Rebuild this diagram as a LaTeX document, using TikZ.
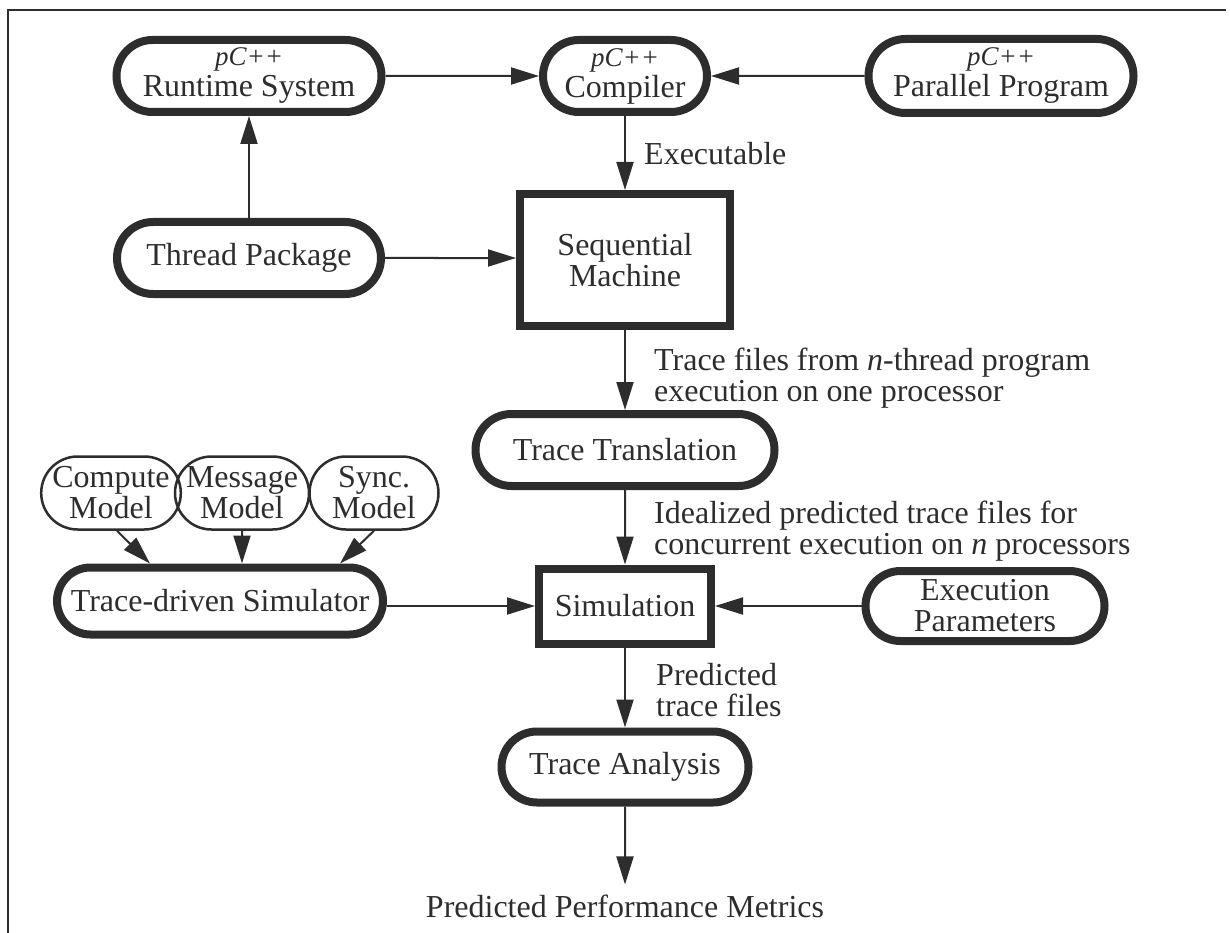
\documentclass[tikz,border=0pt]{standalone}
\usepackage{fontspec}
\setmainfont{Liberation Serif}
\usetikzlibrary{positioning,shapes.misc,arrows.meta,calc}
\definecolor{inkgray}{RGB}{45,45,45}
\newcommand{\pcpp}{{\fontsize{27}{31}\selectfont\itshape pC++}}

\begin{document}
\begin{tikzpicture}[
    x=1pt, y=-1pt,
    font=\fontsize{32}{31}\selectfont,
    every node/.style={text=inkgray},
    pill/.style={rounded rectangle,draw=inkgray,line width=8pt,inner sep=0pt,align=center},
    model/.style={rounded rectangle,draw=inkgray,line width=2.5pt,inner sep=0pt,minimum width=129pt,minimum height=73pt,align=center},
    machine/.style={rectangle,draw=inkgray,line width=8pt,inner sep=0pt,align=center},
    flow/.style={-{Triangle[length=28pt,width=17pt]},draw=inkgray,line width=2pt},
    note/.style={anchor=north west,align=left,inner sep=0pt}
]
\useasboundingbox (0,0) rectangle (1230,933);

% Frame
\draw[inkgray,line width=2.5pt] (1226,10) -- (8,10) -- (8,933);

% Compiler and its inputs
\node[pill,minimum width=265pt,minimum height=72pt] (rts) at (249,76) {\pcpp\\Runtime System};
\node[pill,minimum width=164pt,minimum height=72pt] (cpl) at (625,76) {\pcpp\\Compiler};
\node[pill,minimum width=265pt,minimum height=74pt] (ppg) at (1001,76) {\pcpp\\Parallel Program};
\node[pill,minimum width=264pt,minimum height=72pt] (thr) at (249,258) {Thread Package};

% Main flow
\node[machine,minimum width=210pt,minimum height=132pt] (seq) at (625,260) {Sequential\\Machine};
\node[pill,minimum width=299pt,minimum height=72pt] (ttr) at (625,450) {Trace Translation};
\node[machine,minimum width=172pt,minimum height=75pt] (sim) at (625,606) {Simulation};
\node[pill,minimum width=247pt,minimum height=71pt] (tan) at (625,767) {Trace Analysis};
\node[anchor=base,inner sep=0pt,outer sep=10pt] (met) at (625,917) {Predicted Performance Metrics};

% Simulator models
\node[model] (cmp) at (111,493) {Compute\\Model};
\node[model,minimum width=126pt] (msg) at (242,493) {Message\\Model};
\node[model] (syn) at (374,493) {Sync.\\Model};
\node[pill,minimum width=326pt,minimum height=67pt] (tds) at (220,601) {Trace-driven Simulator};
\node[pill,minimum width=239pt,minimum height=70pt] (exe) at (985,606) {Execution\\Parameters};

% Labels on the flow
\node[anchor=base west,inner sep=0pt] (lexe) at (644,165) {Executable};
\node[note] (ltrc) at (654,348) {Trace files from \textit{n}-thread program\\execution on one processor};
\node[note] (lidl) at (654,501) {Idealized predicted trace files for\\concurrent execution on \textit{n} processors};
\node[note] (lprd) at (656,663) {Predicted\\trace files};

% Arrows
\draw[flow] (rts) -- (cpl);
\draw[flow] (ppg) -- (cpl);
\draw[flow] (thr) -- (rts);
\draw[flow] (thr) -- (thr -| seq.west);
\draw[flow] (cpl) -- (seq);
\draw[flow] (seq) -- (ttr);
\draw[flow] (ttr) -- (sim);
\draw[flow] ($(cmp.south)+(6,0)$) -- ($(tds.north)+(-70,0)$);
\draw[flow] (msg) -- (msg |- tds.north);
\draw[flow] (syn.south) -- ($(tds.north)+(120,0)$);
\draw[flow] (tds.east |- sim) -- (sim);
\draw[flow] (exe) -- (sim);
\draw[flow] (sim) -- (tan);
\draw[flow] (tan) -- (met);
\end{tikzpicture}
\end{document}
